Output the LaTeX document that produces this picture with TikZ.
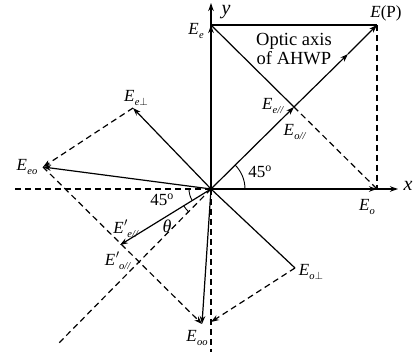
\documentclass[tikz,border=0pt]{standalone}
\usepackage{fontspec}
\setmainfont{Liberation Serif}
\usetikzlibrary{arrows.meta}
\newcommand\Esub[1]{\textit{E}\kern0.3pt\raisebox{-0.45ex}{\fontsize{10.5}{10.5}\selectfont\textit{#1}}}
\newcommand\Epsub[1]{\textit{E}\kern0.5pt$'$\kern-0.5pt\raisebox{-0.55ex}{\fontsize{10.5}{10.5}\selectfont\textit{#1}}}
\begin{document}
\begin{tikzpicture}[x=1pt,y=-1pt,line width=1.2pt,
  >={Stealth[length=8pt,width=5.5pt]},
  dsh/.style={dashed,dash pattern=on 6pt off 4pt},
  lab/.style={inner sep=0pt,font=\fontsize{17}{17}\selectfont}]
\useasboundingbox (0,0) rectangle (413,352);
\coordinate (O) at (211,189);
\coordinate (yTop) at (211,3);
\coordinate (Ee) at (211,25);
\coordinate (EP) at (377,25);
\coordinate (Eo) at (377,189);
\coordinate (xEnd) at (398,189);
\coordinate (xLeft) at (14,189);
\coordinate (yBot) at (211,352);
\coordinate (Epar) at (294,107);
\coordinate (Mid) at (348,54);
\coordinate (Eeperp) at (133,108);
\coordinate (Eoperp) at (295,268);
\coordinate (Eeo) at (43,167);
\coordinate (Eoo) at (202,324);
\coordinate (Eoob) at (211,322);
\coordinate (Dl) at (57,345);
\coordinate (Epp) at (120,245);
% axes
\draw[->] (O) -- (xEnd);
\draw[->] (O) -- (Eo);
\draw[->] (O) -- (yTop);
\draw[->] (O) -- (Ee);
\draw[dsh] (O) -- (xLeft);
\draw[dsh] (O) -- (yBot);
% E(P) rectangle
\draw (Ee) -- (EP);
\draw[dsh] (EP) -- (Eo);
\draw (Ee) -- (Epar);
\draw[dsh] (Epar) -- (Eo);
\draw[->] (O) -- (Epar);
\draw[->] (Epar) -- (Mid);
\draw[->] (Mid) -- (EP);
% perpendicular line
\draw[->] (O) -- (Eeperp);
\draw (O) -- (Eoperp);
\draw[dsh,->] (Eeperp) -- (Eeo);
\draw[->] (O) -- (Eeo);
\draw[dsh,->] (Eeo) -- (Eoo);
\draw[dsh,->] (Eoperp) -- (Eoob);
\draw[->] (O) -- (Eoo);
\draw[dsh] (O) -- (Dl);
\draw[->] (O) -- (Epp);
% arcs
\draw[line width=0.9pt] ([shift={(34,0)}]O) arc[start angle=0,end angle=-45,radius=34];
\draw[line width=0.9pt] ([shift={(-22,0)}]O) arc[start angle=180,end angle=149,radius=22];
\draw[line width=0.9pt] ([shift={(148:32)}]O) arc[start angle=148,end angle=134,radius=32];
% labels
\node[lab,font=\fontsize{20}{20}\selectfont\itshape] (lx) at (408,186) {x};
\node[lab,font=\fontsize{20}{20}\selectfont\itshape] (ly) at (226,12) {y};
\node[lab] (lEP) at (386,13) {\textit{E}(P)};
\node[lab] (lEe) at (196,31) {\Esub{e}};
\node[lab,font=\fontsize{18.5}{18.5}\selectfont,align=center] (lopt) at (294,49) {Optic axis\\of AHWP};
\node[lab] (lEpar) at (273,106) {\Esub{e//}};
\node[lab] (lEopar) at (295,132) {\Esub{o//}};
\node[lab] (l45a) at (260,172) {45\textsuperscript{o}};
\node[lab] (lEo) at (367,207) {\Esub{o}};
\node[lab] (lEoperp) at (311,272) {\Esub{o$\perp$}};
\node[lab] (lEoo) at (197,338) {\Esub{oo}};
\node[lab] (lEeo) at (27,167) {\Esub{eo}};
\node[lab] (lEeperp) at (136,98) {\Esub{e$\perp$}};
\node[lab] (lEpe) at (126,229) {\Epsub{e//}};
\node[lab] (lEpo) at (118,261) {\Epsub{o//}};
\node[lab] (l45b) at (162,200) {45\textsuperscript{o}};
\node[lab,font=\fontsize{18}{18}\selectfont\itshape] (lth) at (167,226) {θ};
\end{tikzpicture}
\end{document}
